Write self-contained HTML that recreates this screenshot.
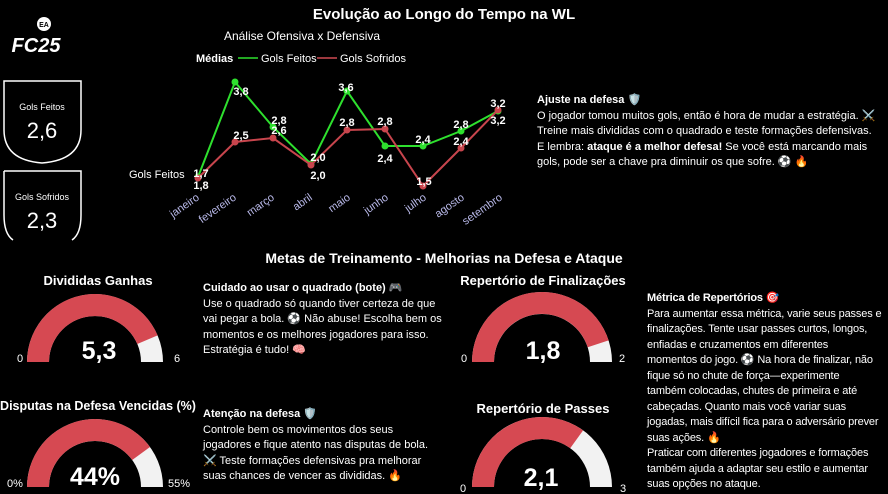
<!DOCTYPE html>
<html><head><meta charset="utf-8"><style>
body{margin:0;background:#000;width:888px;height:494px;overflow:hidden;font-family:"Liberation Sans","DejaVu Sans",sans-serif;color:#fff;position:relative}
.a{position:absolute;white-space:nowrap}
.t{font-size:11px;line-height:15.5px}
</style></head><body>
<svg width="888" height="494" style="position:absolute;left:0;top:0" font-family="Liberation Sans, DejaVu Sans, sans-serif">
<circle cx="44" cy="24" r="7" fill="#fff"/><text x="44" y="27" font-size="7" text-anchor="middle" fill="#000" font-weight="bold">EA</text>
<text x="36" y="52" font-size="20" font-weight="bold" font-style="italic" text-anchor="middle" fill="#fff">FC25</text>
<path d="M4,81 H81 V130 Q81,160 42,163 Q4,160 4,130 Z" fill="none" stroke="#fff" stroke-width="1.5"/>
<path d="M4,171 H81 V215 Q81,234 72,240 M4,215 Q4,234 13,240 M4,171 V215" fill="none" stroke="#fff" stroke-width="1.5"/>
<text x="42" y="110" font-size="9" text-anchor="middle" fill="#fff">Gols Feitos</text>
<text x="42" y="138" font-size="22" text-anchor="middle" fill="#fff" font-family="Liberation Sans Narrow, Liberation Sans, sans-serif">2,6</text>
<text x="42" y="200" font-size="9" text-anchor="middle" fill="#fff">Gols Sofridos</text>
<text x="42" y="228" font-size="22" text-anchor="middle" fill="#fff" font-family="Liberation Sans Narrow, Liberation Sans, sans-serif">2,3</text>
<text x="444" y="19" font-size="15" font-weight="bold" text-anchor="middle" fill="#fff">Evolução ao Longo do Tempo na WL</text>
<text x="302" y="40" font-size="12" text-anchor="middle" fill="#fff">Análise Ofensiva x Defensiva</text>
<text x="196" y="62" font-size="11" font-weight="bold" fill="#fff">Médias</text>
<line x1="238" y1="58" x2="258" y2="58" stroke="#2ee02e" stroke-width="1.5"/>
<text x="261" y="62" font-size="11" fill="#fff">Gols Feitos</text>
<line x1="317" y1="58" x2="337" y2="58" stroke="#d04a52" stroke-width="1.5"/>
<text x="340" y="62" font-size="11" fill="#fff">Gols Sofridos</text>
<text x="129" y="178" font-size="11" fill="#fff">Gols Feitos</text>
<polyline fill="none" stroke="#2ee02e" stroke-width="2" points="198,177 235,82 273,127 311,164 347,91 385,146 423,146 461,131 498,111"/>
<g fill="#2ee02e"><circle cx="198" cy="177" r="3.5"/><circle cx="235" cy="82" r="3.5"/><circle cx="273" cy="127" r="3.5"/><circle cx="311" cy="164" r="3.5"/><circle cx="347" cy="91" r="3.5"/><circle cx="385" cy="146" r="3.5"/><circle cx="423" cy="146" r="3.5"/><circle cx="461" cy="131" r="3.5"/><circle cx="498" cy="111" r="3.5"/></g>
<polyline fill="none" stroke="#c8454d" stroke-width="2" points="198,178 235,142 273,138 311,165 347,130 385,129 423,186 461,148 498,110"/>
<g fill="#c8454d"><circle cx="198" cy="178" r="3.5"/><circle cx="235" cy="142" r="3.5"/><circle cx="273" cy="138" r="3.5"/><circle cx="311" cy="165" r="3.5"/><circle cx="347" cy="130" r="3.5"/><circle cx="385" cy="129" r="3.5"/><circle cx="423" cy="186" r="3.5"/><circle cx="461" cy="148" r="3.5"/><circle cx="498" cy="110" r="3.5"/></g>
<g font-size="11" font-weight="bold" fill="#fff" text-anchor="middle">
<text x="201" y="177">1,7</text><text x="201" y="189">1,8</text>
<text x="241" y="95">3,8</text><text x="241" y="139">2,5</text>
<text x="279" y="124">2,8</text><text x="279" y="134">2,6</text>
<text x="318" y="161">2,0</text><text x="318" y="179">2,0</text>
<text x="346" y="91">3,6</text><text x="347" y="126">2,8</text>
<text x="385" y="125">2,8</text><text x="385" y="162">2,4</text>
<text x="423" y="143">2,4</text><text x="424" y="185">1,5</text>
<text x="461" y="128">2,8</text><text x="461" y="145">2,4</text>
<text x="498" y="107">3,2</text><text x="498" y="124">3,2</text>
</g>
<g font-size="11" fill="#b8b8e8" text-anchor="end">
<text transform="translate(200,199) rotate(-35)">janeiro</text>
<text transform="translate(237,199) rotate(-35)">fevereiro</text>
<text transform="translate(275,199) rotate(-35)">março</text>
<text transform="translate(313,199) rotate(-35)">abril</text>
<text transform="translate(351,199) rotate(-35)">maio</text>
<text transform="translate(389,199) rotate(-35)">junho</text>
<text transform="translate(427,199) rotate(-35)">julho</text>
<text transform="translate(465,199) rotate(-35)">agosto</text>
<text transform="translate(503,199) rotate(-35)">setembro</text>
</g>
<text x="444" y="263" font-size="14" font-weight="bold" text-anchor="middle" fill="#fff">Metas de Treinamento - Melhorias na Defesa e Ataque</text>
<path d="M27,362 A68,68 0 0 1 163,362 L141,362 A46,46 0 0 0 49,362 Z" fill="#f2f2f2"/>
<path d="M27,362 A68,68 0 0 1 157.6,335.4 L137.3,344 A46,46 0 0 0 49,362 Z" fill="#d64952"/>
<path d="M27,487 A68,68 0 0 1 163,487 L141,487 A46,46 0 0 0 49,487 Z" fill="#f2f2f2"/>
<path d="M27,487 A68,68 0 0 1 150,447 L132.2,460 A46,46 0 0 0 49,487 Z" fill="#d64952"/>
<path d="M472,362 A70,70 0 0 1 612,362 L590,362 A48,48 0 0 0 494,362 Z" fill="#f2f2f2"/>
<path d="M472,362 A70,70 0 0 1 608.6,340.4 L587.7,347.2 A48,48 0 0 0 494,362 Z" fill="#d64952"/>
<path d="M472,487 A70,70 0 0 1 612,487 L590,487 A48,48 0 0 0 494,487 Z" fill="#f2f2f2"/>
<path d="M472,487 A70,70 0 0 1 583.1,430.4 L570.2,448.2 A48,48 0 0 0 494,487 Z" fill="#d64952"/>
<g fill="#fff" text-anchor="middle">
<text x="98" y="285" font-size="13" font-weight="bold">Divididas Ganhas</text>
<text x="98" y="410" font-size="12.5" font-weight="bold">Disputas na Defesa Vencidas (%)</text>
<text x="543" y="285" font-size="13" font-weight="bold">Repertório de Finalizações</text>
<text x="543" y="413" font-size="13" font-weight="bold">Repertório de Passes</text>
<g font-family="Liberation Sans Narrow, Liberation Sans, sans-serif" font-weight="bold" font-size="25">
<text x="99" y="359">5,3</text>
<text x="95" y="485">44%</text>
<text x="543" y="359">1,8</text>
<text x="541" y="486">2,1</text></g>
<g font-size="11"><text x="20" y="362">0</text><text x="177" y="362">6</text><text x="15" y="487">0%</text><text x="179" y="487">55%</text>
<text x="464" y="362">0</text><text x="622" y="362">2</text><text x="463" y="492">0</text><text x="623" y="492">3</text></g>
</g>
</svg>
<div class="a t" style="left:537px;top:93px"><b>Ajuste na defesa</b> 🛡️<br>O jogador tomou muitos gols, então é hora de mudar a estratégia. ⚔️<br>Treine mais divididas com o quadrado e teste formações defensivas.<br>E lembra: <b>ataque é a melhor defesa!</b> Se você está marcando mais<br>gols, pode ser a chave pra diminuir os que sofre. ⚽ 🔥</div>
<div class="a t" style="left:203px;top:281px"><b>Cuidado ao usar o quadrado (bote)</b> 🎮<br>Use o quadrado só quando tiver certeza de que<br>vai pegar a bola. ⚽ Não abuse! Escolha bem os<br>momentos e os melhores jogadores para isso.<br>Estratégia é tudo! 🧠</div>
<div class="a t" style="left:203px;top:407px"><b>Atenção na defesa</b> 🛡️<br>Controle bem os movimentos dos seus<br>jogadores e fique atento nas disputas de bola.<br>⚔️ Teste formações defensivas pra melhorar<br>suas chances de vencer as divididas. 🔥</div>
<div class="a t" style="left:647px;top:291px;letter-spacing:-0.15px"><b>Métrica de Repertórios</b> 🎯<br>Para aumentar essa métrica, varie seus passes e<br>finalizações. Tente usar passes curtos, longos,<br>enfiadas e cruzamentos em diferentes<br>momentos do jogo. ⚽ Na hora de finalizar, não<br>fique só no chute de força—experimente<br>também colocadas, chutes de primeira e até<br>cabeçadas. Quanto mais você variar suas<br>jogadas, mais difícil fica para o adversário prever<br>suas ações. 🔥<br>Praticar com diferentes jogadores e formações<br>também ajuda a adaptar seu estilo e aumentar<br>suas opções no ataque.</div>
</body></html>
